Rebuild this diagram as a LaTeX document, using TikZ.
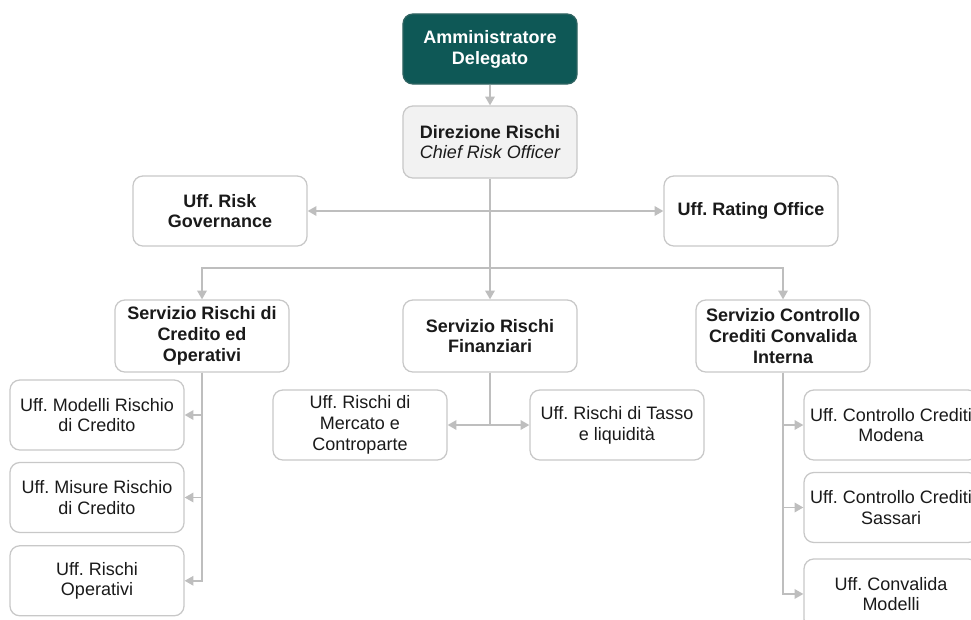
\documentclass[tikz,border=0pt]{standalone}
\usepackage{fontspec}
\setmainfont{Liberation Sans}
\usetikzlibrary{arrows.meta,positioning}
\frenchspacing

\definecolor{tealdark}{HTML}{0E5856}
\definecolor{boxline}{HTML}{C8C8C8}
\definecolor{connline}{HTML}{BEBEBE}
\definecolor{dirfill}{HTML}{F2F2F2}
\definecolor{txtdark}{HTML}{1A1A1A}

\begin{document}
\begin{tikzpicture}[
  x=0.025cm, y=-0.025cm,
  unit/.style={rectangle, draw=boxline, line width=0.9pt, rounded corners=7pt, fill=white, text=txtdark, minimum width=4.35cm, minimum height=1.75cm, align=center, inner sep=2pt, font=\fontsize{12.8}{14.8}\selectfont},
  head/.style={unit, font=\fontsize{12.8}{14.8}\selectfont\bfseries},
  arr/.style={-{Triangle[length=2.2mm,width=2.4mm]}, draw=connline, line width=1.1pt},
  ln/.style={draw=connline, line width=1.1pt}
]
  \useasboundingbox (0,0) rectangle (971,619);
  \clip (0,0) rectangle (971,619);

  % top
  \node[head, fill=tealdark, draw=tealdark!70!gray, text=white] (ad) at (490,49) {Amministratore\\Delegato};
  \node[head, fill=dirfill, minimum height=1.8cm] (dr) at (490,142) {Direzione Rischi\\\mdseries\itshape Chief Risk Officer};
  \node[head] (rg) at (220,211) {Uff. Risk\\Governance};
  \node[head] (ro) at (751,211) {Uff. Rating Office};
  \coordinate (bus) at (490,268);

  % servizi
  \node[head, minimum height=1.8cm] (src) at (202,336) {Servizio Rischi di\\Credito ed\\Operativi};
  \node[head, minimum height=1.8cm] (srf) at (490,336) {Servizio Rischi\\Finanziari};
  \node[head, minimum height=1.8cm] (scc) at (783,336) {Servizio Controllo\\Crediti Convalida\\Interna};

  % uffici
  \node[unit] (mrc) at (97,415) {Uff. Modelli Rischio\\di Credito};
  \node[unit, below=0.28cm of mrc] (mis) {Uff. Misure Rischio\\di Credito};
  \node[unit, below=0.3cm of mis] (ope) {Uff. Rischi\\Operativi};
  \node[unit] (mer) at (360,425) {Uff. Rischi di\\Mercato e\\Controparte};
  \node[unit] (tas) at (617,425) {Uff. Rischi di Tasso\\e liquidità};
  \node[unit] (mod) at (891,425) {Uff. Controllo Crediti\\Modena};
  \node[unit, below=0.28cm of mod] (sas) {Uff. Controllo Crediti\\Sassari};
  \node[unit, below=0.38cm of sas] (con) {Uff. Convalida\\Modelli};

  \draw[arr] (ad) -- (dr);
  \draw[ln] (dr.south) -- (bus);
  \draw[arr] (dr.south |- rg) -- (rg.east);
  \draw[arr] (dr.south |- ro) -- (ro.west);
  \draw[arr] (bus) -| (src.north);
  \draw[arr] (bus) -- (srf.north);
  \draw[arr] (bus) -| (scc.north);

  \foreach \u in {mrc,mis,ope}
    \draw[arr] (src.south) |- (\u.east);
  \draw[arr] (srf.south) |- (mer.east);
  \draw[arr] (srf.south) |- (tas.west);
  \foreach \u in {mod,sas,con}
    \draw[arr] (scc.south) |- (\u.west);
\end{tikzpicture}
\end{document}
